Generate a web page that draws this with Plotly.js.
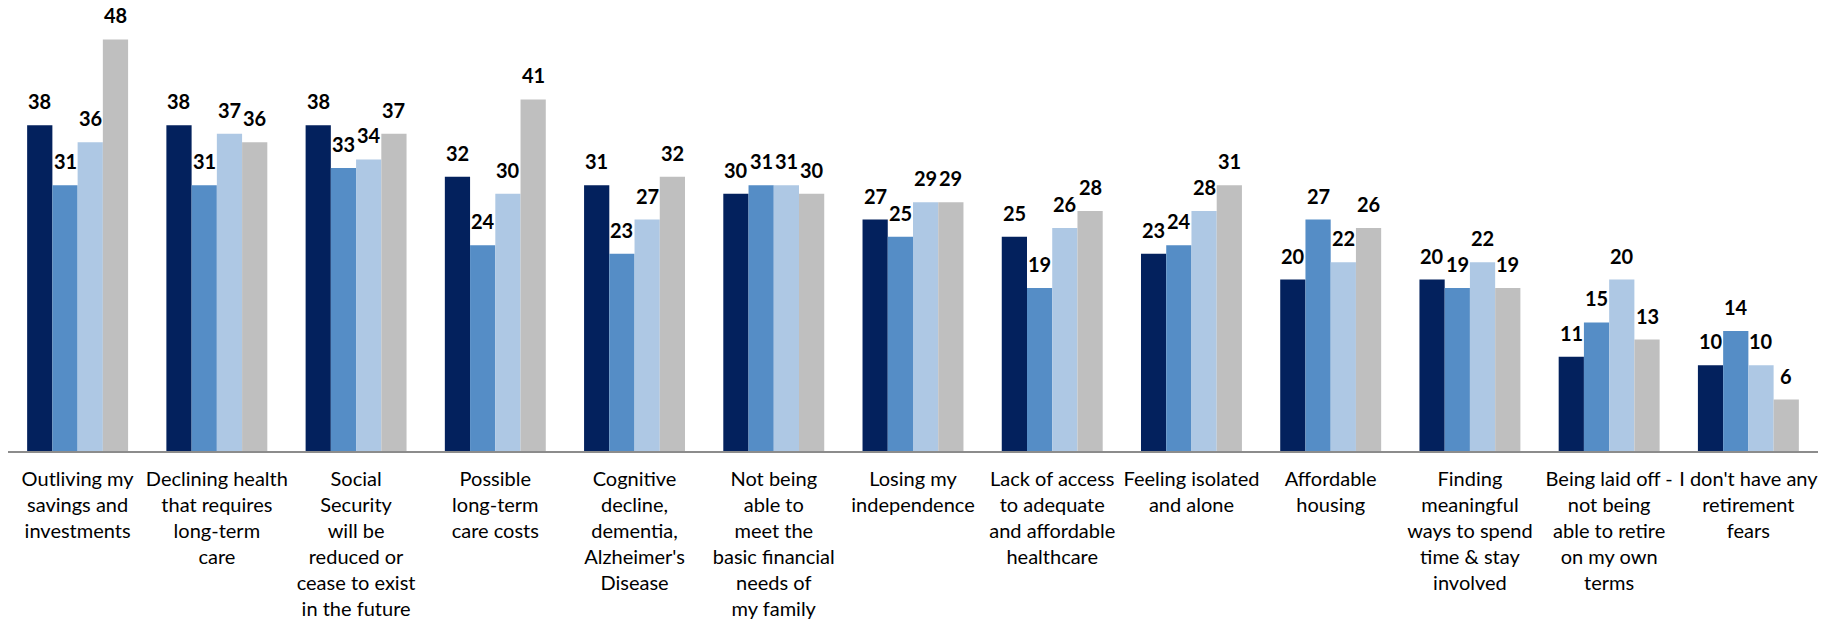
<!DOCTYPE html>
<html>
<head>
<meta charset="utf-8">
<script src="https://cdn.plot.ly/plotly-3.0.1.min.js"></script>
<style>
  html, body { margin: 0; padding: 0; background: #ffffff; }
  #chart { width: 1833px; height: 621px; }
</style>
</head>
<body>
<div id="chart"></div>
<script>
const categories = [
  "Outliving my<br>savings and<br>investments",
  "Declining health<br>that requires<br>long-term<br>care",
  "Social<br>Security<br>will be<br>reduced or<br>cease to exist<br>in the future",
  "Possible<br>long-term<br>care costs",
  "Cognitive<br>decline,<br>dementia,<br>Alzheimer's<br>Disease",
  "Not being<br>able to<br>meet the<br>basic financial<br>needs of<br>my family",
  "Losing my<br>independence",
  "Lack of access<br>to adequate<br>and affordable<br>healthcare",
  "Feeling isolated<br>and alone",
  "Affordable<br>housing",
  "Finding<br>meaningful<br>ways to spend<br>time &amp; stay<br>involved",
  "Being laid off -<br>not being<br>able to retire<br>on my own<br>terms",
  "I don't have any<br>retirement<br>fears"
];

const seriesNames = ["Series 1", "Series 2", "Series 3", "Series 4"];
const series1 = [38, 38, 38, 32, 31, 30, 27, 25, 23, 20, 20, 11, 10];
const series2 = [31, 31, 33, 24, 23, 31, 25, 19, 24, 27, 19, 15, 14];
const series3 = [36, 37, 34, 30, 27, 31, 29, 26, 28, 22, 22, 20, 10];
const series4 = [48, 36, 37, 41, 32, 30, 29, 28, 31, 26, 19, 13, 6];

const allSeries = [series1, series2, series3, series4];
const colors = ["#03215D", "#558DC6", "#AEC8E4", "#BFBFBF"];

const idx = categories.map((_, i) => i);
const bargap = 0.275;
const nSeries = allSeries.length;
const barW = (1 - bargap) / nSeries;

const traces = allSeries.map((vals, j) => ({
  type: "bar",
  name: seriesNames[j],
  x: idx,
  y: vals,
  marker: { color: colors[j], line: { width: 0 } },
  hoverinfo: "y"
}));

const annotations = [];
allSeries.forEach((vals, j) => {
  const off = (j - (nSeries - 1) / 2) * barW;
  vals.forEach((v, i) => {
    annotations.push({
      xref: "x", yref: "y",
      x: i + off, y: v,
      text: String(v),
      showarrow: false,
      yanchor: "bottom",
      xanchor: "center",
      yshift: 10,
      font: { family: "Lato, 'Open Sans', sans-serif", size: 20, color: "#000000", weight: 700 }
    });
  });
});

const layout = {
  width: 1833,
  height: 621,
  margin: { l: 8, r: 15, t: 0, b: 170 },
  paper_bgcolor: "#ffffff",
  plot_bgcolor: "#ffffff",
  barmode: "group",
  bargap: bargap,
  bargroupgap: 0,
  showlegend: false,
  font: { family: "Lato, 'Open Sans', sans-serif", size: 20, color: "#000000" },
  xaxis: {
    type: "linear",
    range: [-0.5, categories.length - 0.5],
    tickmode: "array",
    tickvals: idx,
    ticktext: categories,
    ticks: "",
    showgrid: false,
    zeroline: false,
    showline: true,
    linecolor: "#8C8C8C",
    linewidth: 2,
    tickangle: 0,
    ticklabelstandoff: 9,
    tickfont: { family: "Lato, 'Open Sans', sans-serif", size: 20, color: "#000000" },
    fixedrange: true
  },
  yaxis: {
    visible: false,
    range: [0, 52.6],
    showgrid: false,
    zeroline: false,
    fixedrange: true
  },
  annotations: annotations
};

Plotly.newPlot("chart", traces, layout, { displayModeBar: false, staticPlot: true });
</script>
</body>
</html>
